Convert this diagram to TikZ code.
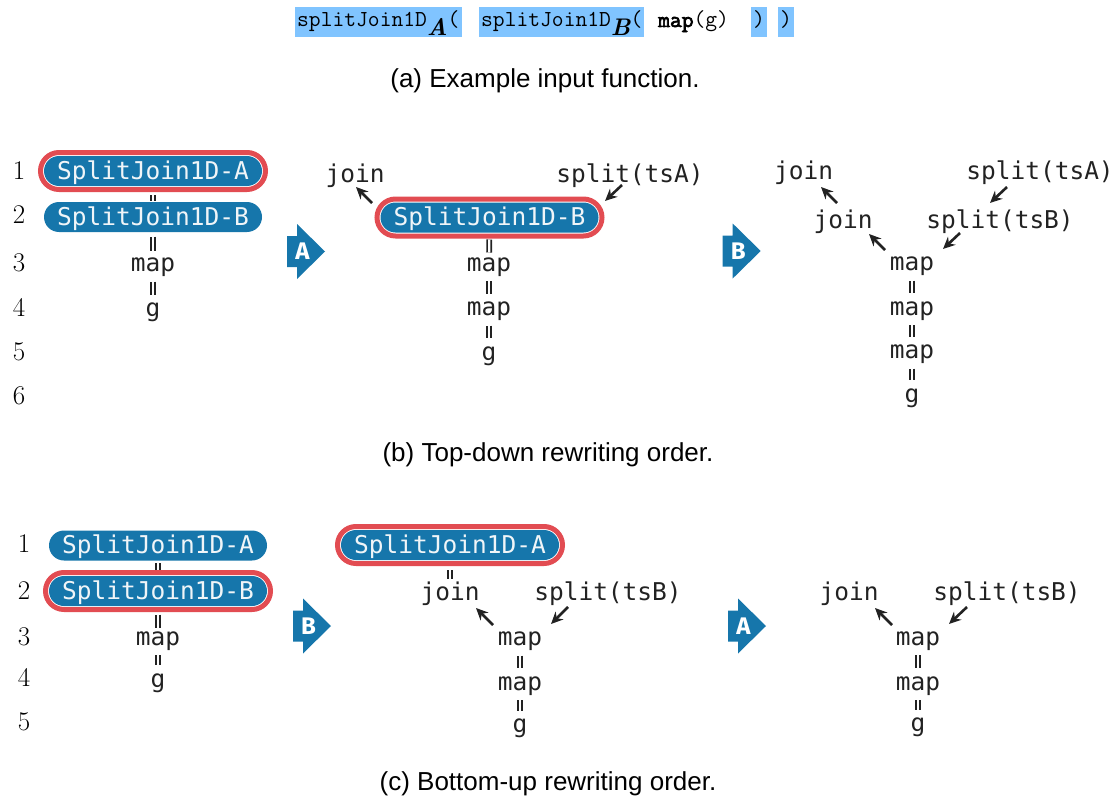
\documentclass[tikz,border=0pt]{standalone}
\usepackage{fontspec}
\usetikzlibrary{fit,arrows.meta}
\newfontfamily\monofont{DejaVu Sans Mono}
\newfontfamily\capfont{Liberation Sans}
\newfontfamily\badgefont{Fira Sans}
\newfontfamily\codebf{Latin Modern Mono}[FakeBold=3]
\definecolor{pblue}{RGB}{22,118,171}
\definecolor{ringred}{RGB}{226,76,82}
\definecolor{hlblue}{RGB}{128,196,255}
\definecolor{ink}{RGB}{34,34,34}
\definecolor{pilltext}{RGB}{240,245,248}
\tikzset{
  lbl/.style={font=\monofont\fontsize{24.5}{28}\selectfont, text=ink, inner sep=0pt, outer sep=0pt, text height=14pt, text depth=4pt, anchor=base},
  pill/.style={fill=pblue, text=pilltext, font=\monofont\fontsize{24.5}{28}\selectfont, minimum width=218pt, minimum height=30pt, inner sep=0pt, outer sep=0pt, rounded corners=15pt, text height=17pt, text depth=0.5pt},
  ringbox/.style={draw=ringred, line width=5pt, rounded corners=18.5pt, inner sep=3.5pt, outer sep=0pt, fit=#1},
  eqc/.style={draw=ink, double=white, line width=1.8pt, double distance=2.2pt},
  eqt/.style={eqc, shorten <=6pt, shorten >=8pt},
  arr/.style={draw=ink, line width=2.6pt, -{Stealth[length=12pt, width=11pt]}},
  rownum/.style={font=\fontsize{27}{30}\selectfont, anchor=base, inner sep=0pt},
  hl/.style={fill=hlblue, inner xsep=2pt, inner ysep=0pt, text height=15pt, text depth=5pt, anchor=west, minimum height=30pt, font=\ttfamily\fontsize{22.9}{26}\selectfont},
  plaincode/.style={inner sep=0pt, text height=15pt, text depth=5pt, anchor=west, minimum height=30pt, font=\ttfamily\fontsize{22.9}{26}\selectfont},
  caption/.style={font=\capfont\fontsize{26}{30}\selectfont, anchor=base, inner sep=0pt},
  badgetxt/.style={font=\badgefont\bfseries\fontsize{24}{24}\selectfont, text=white, inner sep=0pt},
  badge/.pic={
    \fill[pblue] (-38,-15.5) -- (-28,-15.5) -- (-28,-27.5) -- (0,0) -- (-28,27.5) -- (-28,15.5) -- (-38,15.5) -- cycle;
    \node[badgetxt] (-t) at (-22.5,0) {\tikzpictext};
  }
}
\newcommand{\subA}[1]{\raisebox{-9pt}{\rmfamily\fontsize{24}{24}\selectfont\bfseries\itshape #1}}
\begin{document}
\begin{tikzpicture}[x=1pt,y=-1pt]
\useasboundingbox (0,0) rectangle (1117,800);

% ---- (a) ----
\node[hl] (h1) at (295,22) {splitJoin1D\subA{A}(};
\node[hl] (h2) at (479,22) {splitJoin1D\subA{B}(};
\node[plaincode] (h3) at (658,22) {{\codebf map}(g)};
\node[hl] (h4) at (751,22) {)};
\node[hl] (h5) at (778,22) {)};
\node[caption] (capa) at (545,88) {(a) Example input function.};

% ---- (b) row numbers ----
\node[rownum] (bn1) at (19,179.3) {1};
\node[rownum] (bn2) at (19,223.3) {2};
\node[rownum] (bn3) at (19,271.7) {3};
\node[rownum] (bn4) at (19,316.7) {4};
\node[rownum] (bn5) at (19,360) {5};
\node[rownum] (bn6) at (19,404) {6};

% (b) column 1
\node[pill] (b1A) at (153,171) {SplitJoin1D-A};
\node[pill] (b1B) at (153,217) {SplitJoin1D-B};
\node[lbl] (b1m) at (153,271.7) {map};
\node[lbl] (b1g) at (153,316.7) {g};
\draw[eqc, shorten <=9pt, shorten >=1pt] (b1A) -- (b1B);
\draw[eqc, shorten <=4.5pt, shorten >=7pt] (b1B) -- (b1m);
\draw[eqt] (b1m) -- (b1g);
\node[ringbox=(b1A)] (b1r) {};

\pic (bbA) [pic text=A] at (325,251.5) {badge};

% (b) column 2
\node[pill] (b2B) at (489.5,217.5) {SplitJoin1D-B};
\node[lbl] (b2j) at (355,182.5) {join};
\node[lbl] (b2s) at (630,182.5) {split(tsA)};
\node[lbl] (b2m1) at (489,271) {map};
\node[lbl] (b2m2) at (489,315.7) {map};
\node[lbl] (b2g) at (489,360) {g};
\draw[eqc, shorten <=7pt, shorten >=4.5pt] (b2B) -- (b2m1);
\draw[eqt] (b2m1) -- (b2m2);
\draw[eqt] (b2m2) -- (b2g);
\node[ringbox=(b2B)] (b2r) {};
\coordinate (b2a1t) at (372,203);
\coordinate (b2a1h) at (356,187);
\coordinate (b2a2t) at (622,185);
\coordinate (b2a2h) at (605,201);
\draw[arr] (b2a1t) -- (b2a1h);
\draw[arr] (b2a2t) -- (b2a2h);

\pic (bbB) [pic text=B] at (760.7,251) {badge};

% (b) column 3
\node[lbl] (b3j1) at (803.5,179.5) {join};
\node[lbl] (b3s1) at (1040,179.5) {split(tsA)};
\node[lbl] (b3j2) at (843,228.5) {join};
\node[lbl] (b3s2) at (1000,228.5) {split(tsB)};
\node[lbl] (b3m1) at (912,270.7) {map};
\node[lbl] (b3m2) at (912,315) {map};
\node[lbl] (b3m3) at (912,358.5) {map};
\node[lbl] (b3g) at (912,402) {g};
\draw[eqt] (b3m1) -- (b3m2);
\draw[eqt] (b3m2) -- (b3m3);
\draw[eqt] (b3m3) -- (b3g);
\coordinate (b3a1t) at (837,203);
\coordinate (b3a1h) at (821,187);
\coordinate (b3a2t) at (1007,187);
\coordinate (b3a2h) at (990,203);
\coordinate (b3a3t) at (885,250);
\coordinate (b3a3h) at (869,234);
\coordinate (b3a4t) at (960,233);
\coordinate (b3a4h) at (943,249);
\draw[arr] (b3a1t) -- (b3a1h);
\draw[arr] (b3a2t) -- (b3a2h);
\draw[arr] (b3a3t) -- (b3a3h);
\draw[arr] (b3a4t) -- (b3a4h);

\node[caption] (capb) at (548,461) {(b) Top-down rewriting order.};

% ---- (c) row numbers ----
\node[rownum] (cn1) at (24,552.7) {1};
\node[rownum] (cn2) at (24,599.3) {2};
\node[rownum] (cn3) at (24,645) {3};
\node[rownum] (cn4) at (24,686.7) {4};
\node[rownum] (cn5) at (24,730) {5};

% (c) column 1
\node[pill] (c1A) at (158,545.5) {SplitJoin1D-A};
\node[pill] (c1B) at (158,591) {SplitJoin1D-B};
\node[lbl] (c1m) at (158,645) {map};
\node[lbl] (c1g) at (158,687) {g};
\draw[eqc, shorten <=2.5pt, shorten >=2pt] (c1A) -- (c1B);
\draw[eqc, shorten <=8.5pt, shorten >=3.5pt] (c1B) -- (c1m);
\draw[eqt] (c1m) -- (c1g);
\node[ringbox=(c1B)] (c1r) {};

\pic (cbB) [pic text=B] at (331,626) {badge};

% (c) column 2
\node[pill] (c2A) at (450,545) {SplitJoin1D-A};
\node[lbl] (c2j) at (450,600.5) {join};
\node[lbl] (c2s) at (608,600.5) {split(tsB)};
\node[lbl] (c2m1) at (520,645.7) {map};
\node[lbl] (c2m2) at (520,690) {map};
\node[lbl] (c2g) at (520,732.5) {g};
\draw[eqc, shorten <=10pt, shorten >=8pt] (c2A) -- (c2j);
\draw[eqt] (c2m1) -- (c2m2);
\draw[eqt] (c2m2) -- (c2g);
\node[ringbox=(c2A)] (c2r) {};
\coordinate (c2a1t) at (493,625);
\coordinate (c2a1h) at (476,608);
\coordinate (c2a2t) at (568,607);
\coordinate (c2a2h) at (551,624);
\draw[arr] (c2a1t) -- (c2a1h);
\draw[arr] (c2a2t) -- (c2a2h);

\pic (cbA) [pic text=A] at (766,626) {badge};

% (c) column 3
\node[lbl] (c3j) at (849,600.5) {join};
\node[lbl] (c3s) at (1007,600.5) {split(tsB)};
\node[lbl] (c3m1) at (918,645) {map};
\node[lbl] (c3m2) at (918,690) {map};
\node[lbl] (c3g) at (918,731.5) {g};
\draw[eqt] (c3m1) -- (c3m2);
\draw[eqt] (c3m2) -- (c3g);
\coordinate (c3a1t) at (892,625);
\coordinate (c3a1h) at (875,608);
\coordinate (c3a2t) at (967,607);
\coordinate (c3a2h) at (949,624);
\draw[arr] (c3a1t) -- (c3a1h);
\draw[arr] (c3a2t) -- (c3a2h);

\node[caption] (capc) at (548,790) {(c) Bottom-up rewriting order.};
\end{tikzpicture}
\end{document}
